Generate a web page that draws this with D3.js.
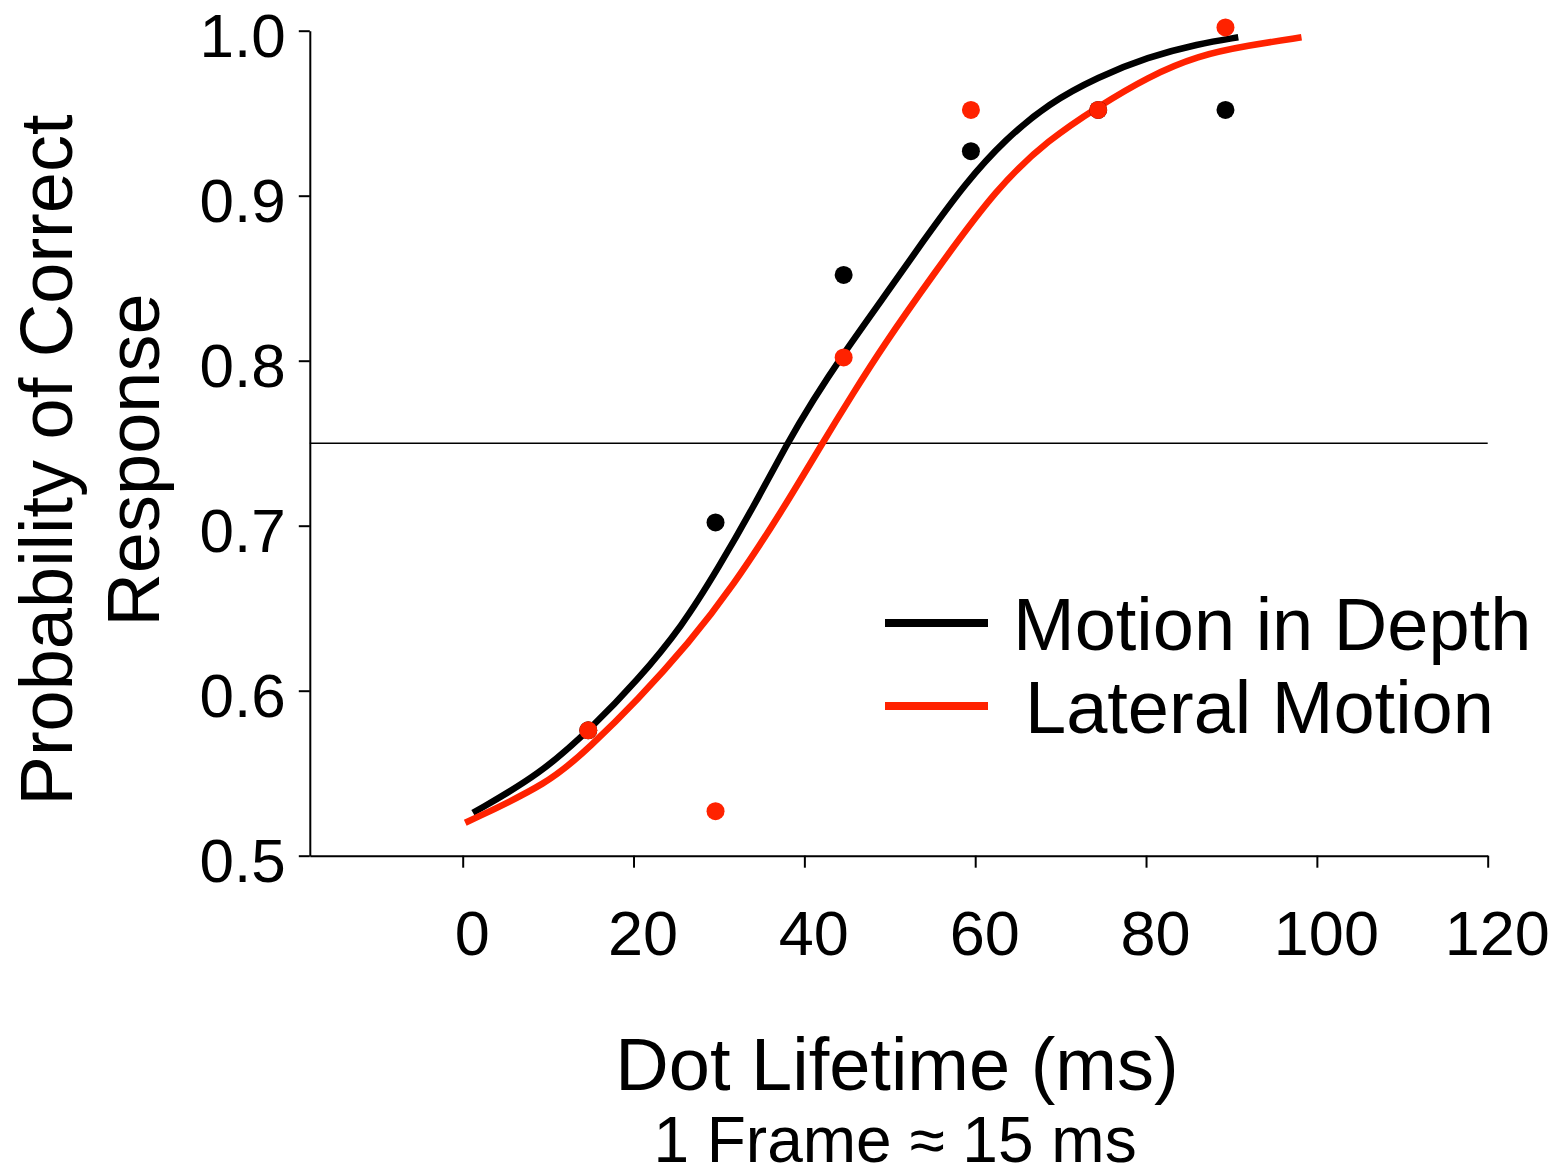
<!DOCTYPE html>
<html>
<head>
<meta charset="utf-8">
<script src="https://cdn.jsdelivr.net/npm/d3@7"></script>
<style>
  body { margin: 0; background: #fff; }
  text { font-family: "Liberation Sans", Arial, sans-serif; fill: #000; }
</style>
</head>
<body>
<div id="chart"></div>
<script>
// data
const lifetimes = [14.7, 29.6, 44.6, 59.5, 74.4, 89.3];
const depthPoints = [0.576, 0.702, 0.852, 0.927, 0.952, 0.952];
const lateralPoints = [0.576, 0.527, 0.802, 0.952, 0.952, 1.002];

// fitted curves
const depthFitX = [1.2, 9.0, 15.2, 20.4, 25.7, 30.0, 34.0, 38.0, 41.0, 44.4, 49.1, 53.7, 58.9, 63.5, 68.6, 74.4, 80.2, 86.1, 90.8];
const depthFitY = [0.526, 0.549, 0.578, 0.606, 0.639, 0.675, 0.711, 0.750, 0.776, 0.803, 0.837, 0.871, 0.908, 0.934, 0.956, 0.972, 0.984, 0.992, 0.996];
const lateralFitX = [0.3, 10.2, 14.9, 20.4, 26.5, 31.6, 37.4, 42.1, 45.8, 49.1, 54.9, 62.7, 68.6, 74.4, 80.2, 86.1, 91.9, 98.2];
const lateralFitY = [0.520, 0.544, 0.566, 0.594, 0.629, 0.663, 0.709, 0.750, 0.781, 0.808, 0.851, 0.906, 0.934, 0.954, 0.972, 0.985, 0.991, 0.996];

const xTicks = [0, 20, 40, 60, 80, 100, 120];
const yTicks = [0.5, 0.6, 0.7, 0.8, 0.9, 1.0];
const threshold = 0.75;

const seriesNames = ['Motion in Depth', 'Lateral Motion'];
const seriesColors = ['#000000', '#ff2200'];

const width = 1557, height = 1172;

const svg = d3.select('#chart').append('svg')
  .attr('width', width)
  .attr('height', height);

const x = d3.scaleLinear().domain([-17.9, 120]).range([309.8, 1487.7]);
const y = d3.scaleLinear().domain([0.5, 1.0]).range([855.7, 30.7]);

// axes
const yAxis = svg.append('g')
  .attr('transform', `translate(${x(-17.9)},0)`)
  .call(d3.axisLeft(y).tickValues(yTicks).tickFormat(d3.format('.1f'))
    .tickSize(11).tickSizeOuter(0).tickPadding(13));
yAxis.selectAll('text').attr('font-size', 62).attr('dy', '0.42em')
  .style('font-family', '"Liberation Sans", Arial, sans-serif');

const xAxis = svg.append('g')
  .attr('transform', `translate(0,${y(0.5)})`)
  .call(d3.axisBottom(x).tickValues(xTicks).tickFormat(d3.format('d'))
    .tickSize(12).tickSizeOuter(0));
xAxis.selectAll('text').attr('font-size', 63).attr('x', 9).attr('y', 99).attr('dy', 0)
  .style('font-family', '"Liberation Sans", Arial, sans-serif');

svg.selectAll('.domain, .tick line').attr('stroke', '#000').attr('stroke-width', 2);

// 75% threshold line
svg.append('line')
  .attr('x1', x(-17.9)).attr('x2', x(120))
  .attr('y1', y(threshold)).attr('y2', y(threshold))
  .attr('stroke', '#000').attr('stroke-width', 1.5);

// fitted curves
const line = d3.line()
  .x(d => x(d[0]))
  .y(d => y(d[1]))
  .curve(d3.curveBasis);

const fits = [
  d3.zip(depthFitX, depthFitY),
  d3.zip(lateralFitX, lateralFitY)
];

svg.selectAll('.fit')
  .data(fits)
  .enter().append('path')
  .attr('class', 'fit')
  .attr('d', line)
  .attr('fill', 'none')
  .attr('stroke', (d, i) => seriesColors[i])
  .attr('stroke-width', 6.5);

// data points
[depthPoints, lateralPoints].forEach(function(vals, i) {
  svg.append('g').selectAll('circle')
    .data(vals)
    .enter().append('circle')
    .attr('cx', (d, j) => x(lifetimes[j]))
    .attr('cy', d => y(d))
    .attr('r', 9)
    .attr('fill', seriesColors[i]);
});

// legend
const legendY = [623, 706];
const legendTextX = [1013, 1025];
seriesNames.forEach(function(name, i) {
  svg.append('line')
    .attr('x1', 885).attr('x2', 988)
    .attr('y1', legendY[i]).attr('y2', legendY[i])
    .attr('stroke', seriesColors[i]).attr('stroke-width', 8);
  svg.append('text')
    .attr('x', legendTextX[i]).attr('y', legendY[i] + 27)
    .attr('font-size', 74)
    .text(name);
});

// axis titles
svg.append('text')
  .attr('transform', 'translate(72,460) rotate(-90)')
  .attr('text-anchor', 'middle')
  .attr('font-size', 74)
  .text('Probability of Correct');
svg.append('text')
  .attr('transform', 'translate(159,460) rotate(-90)')
  .attr('text-anchor', 'middle')
  .attr('font-size', 74)
  .text('Response');

svg.append('text')
  .attr('x', 897).attr('y', 1090)
  .attr('text-anchor', 'middle')
  .attr('font-size', 74)
  .text('Dot Lifetime (ms)');
svg.append('text')
  .attr('x', 895).attr('y', 1162)
  .attr('text-anchor', 'middle')
  .attr('font-size', 64)
  .text('1 Frame \u2248 15 ms');
</script>
</body>
</html>
